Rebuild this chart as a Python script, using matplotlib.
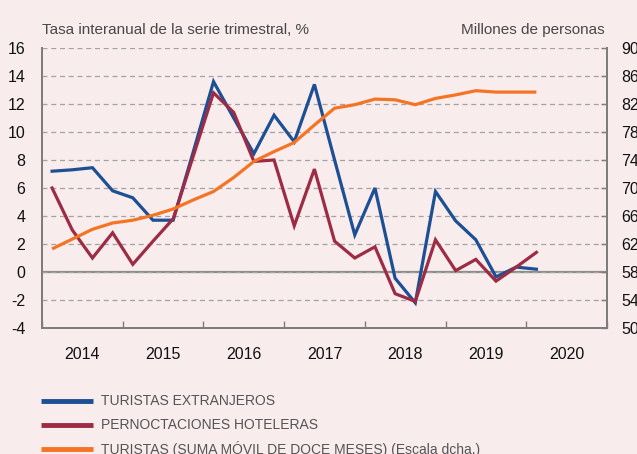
import matplotlib
matplotlib.use("Agg")
import matplotlib.pyplot as plt
from matplotlib.lines import Line2D

plt.rcParams['font.family'] = ['Liberation Sans', 'DejaVu Sans']
plt.rcParams['axes.unicode_minus'] = False

# trimestres 2014T1 .. 2020T1
years = [2014]*4 + [2015]*4 + [2016]*4 + [2017]*4 + [2018]*4 + [2019]*4 + [2020]
quarters = [1, 2, 3, 4]*6 + [1]

turistas = [7.2, 7.3, 7.45, 5.8, 5.3, 3.7, 3.7, 8.6, 13.6, 11.0, 8.45, 11.2, 9.3,
            13.4, 8.0, 2.65, 6.0, -0.45, -2.2, 5.75, 3.65, 2.3, -0.35, 0.35, 0.2]
pernoct = [6.0, 3.0, 1.0, 2.8, 0.55, 2.2, 3.8, 8.3, 12.8, 11.4, 7.9, 8.0, 3.3,
           7.35, 2.2, 1.0, 1.8, -1.55, -2.1, 2.3, 0.1, 0.9, -0.65, 0.35, 1.4]
suma_movil = [61.3, 62.7, 64.1, 65.0, 65.4, 66.1, 67.0, 68.3, 69.5, 71.5, 73.8,
              75.2, 76.5, 79.0, 81.4, 81.9, 82.7, 82.6, 81.9, 82.8, 83.3, 83.9,
              83.7, 83.7, 83.7]

year_labels = ['2014', '2015', '2016', '2017', '2018', '2019', '2020']
left_ticks = list(range(-4, 17, 2))
right_ticks = list(range(50, 91, 4))

labels = ['TURISTAS EXTRANJEROS', 'PERNOCTACIONES HOTELERAS',
          'TURISTAS (SUMA MÓVIL DE DOCE MESES) (Escala dcha.)']
colors = ['#1d4f94', '#9c2b43', '#f47424']

bg = '#f8ecec'
grey = '#7d7d80'

x = [y + (q - 0.5) / 4 for y, q in zip(years, quarters)]

fig = plt.figure(figsize=(6.37, 4.54), dpi=100, facecolor=bg)
ax = fig.add_axes([42/637, 1 - 328/454, 565/637, 280/454])
ax.set_facecolor(bg)
ax2 = ax.twinx()

ax.set_xlim(2014, 2021)
ax.set_ylim(-4, 16)
ax2.set_ylim(50, 90)

ax.grid(axis='y', linestyle=(0, (4, 3)), color='#a3a3a3', lw=0.9)
ax.axhline(0, color='#8c8c8c', lw=1.6, zorder=1)

ax2.plot(x, suma_movil, color=colors[2], lw=2.3, solid_capstyle='butt', zorder=3)
ax.plot(x, turistas, color=colors[0], lw=2.3, solid_joinstyle='miter', zorder=3)
ax.plot(x, pernoct, color=colors[1], lw=2.3, solid_joinstyle='miter', zorder=3)

for a in (ax, ax2):
    a.spines['top'].set_visible(False)
    for s in ('left', 'right', 'bottom'):
        a.spines[s].set_color(grey)
        a.spines[s].set_linewidth(1.4)

ax.set_yticks(left_ticks)
ax.tick_params(axis='y', length=0, pad=12, labelsize=11.5, labelcolor='#111111')
ax2.set_yticks(right_ticks)
ax2.tick_params(axis='y', direction='in', length=4, width=1, color=grey,
                pad=10, labelsize=11.5, labelcolor='#111111')

ax.set_xticks(range(2014, 2022))
ax.set_xticklabels([])
ax.set_xticks([v + 0.5 for v in range(2014, 2021)], minor=True)
ax.set_xticklabels(year_labels, minor=True)
ax.tick_params(axis='x', which='major', direction='in', length=5, width=1, color=grey)
ax.tick_params(axis='x', which='minor', length=0, pad=14, labelsize=11.5,
               labelcolor='#111111')

fig.text(42/637, 1 - 30/454, 'Tasa interanual de la serie trimestral, %',
         fontsize=11, color='#484848', va='center', ha='left')
fig.text(605/637, 1 - 30/454, 'Millones de personas',
         fontsize=11, color='#484848', va='center', ha='right')

# leyenda
for i, (lab, c) in enumerate(zip(labels, colors)):
    yy = 1 - (401 + 24*i)/454
    fig.add_artist(Line2D([41/637, 93/637], [yy, yy], color=c, lw=3.5,
                          solid_capstyle='butt'))
    fig.text(101/637, yy, lab, fontsize=10, color='#555555', va='center',
             ha='left')

fig.savefig('out.png', dpi=100, facecolor=bg)
